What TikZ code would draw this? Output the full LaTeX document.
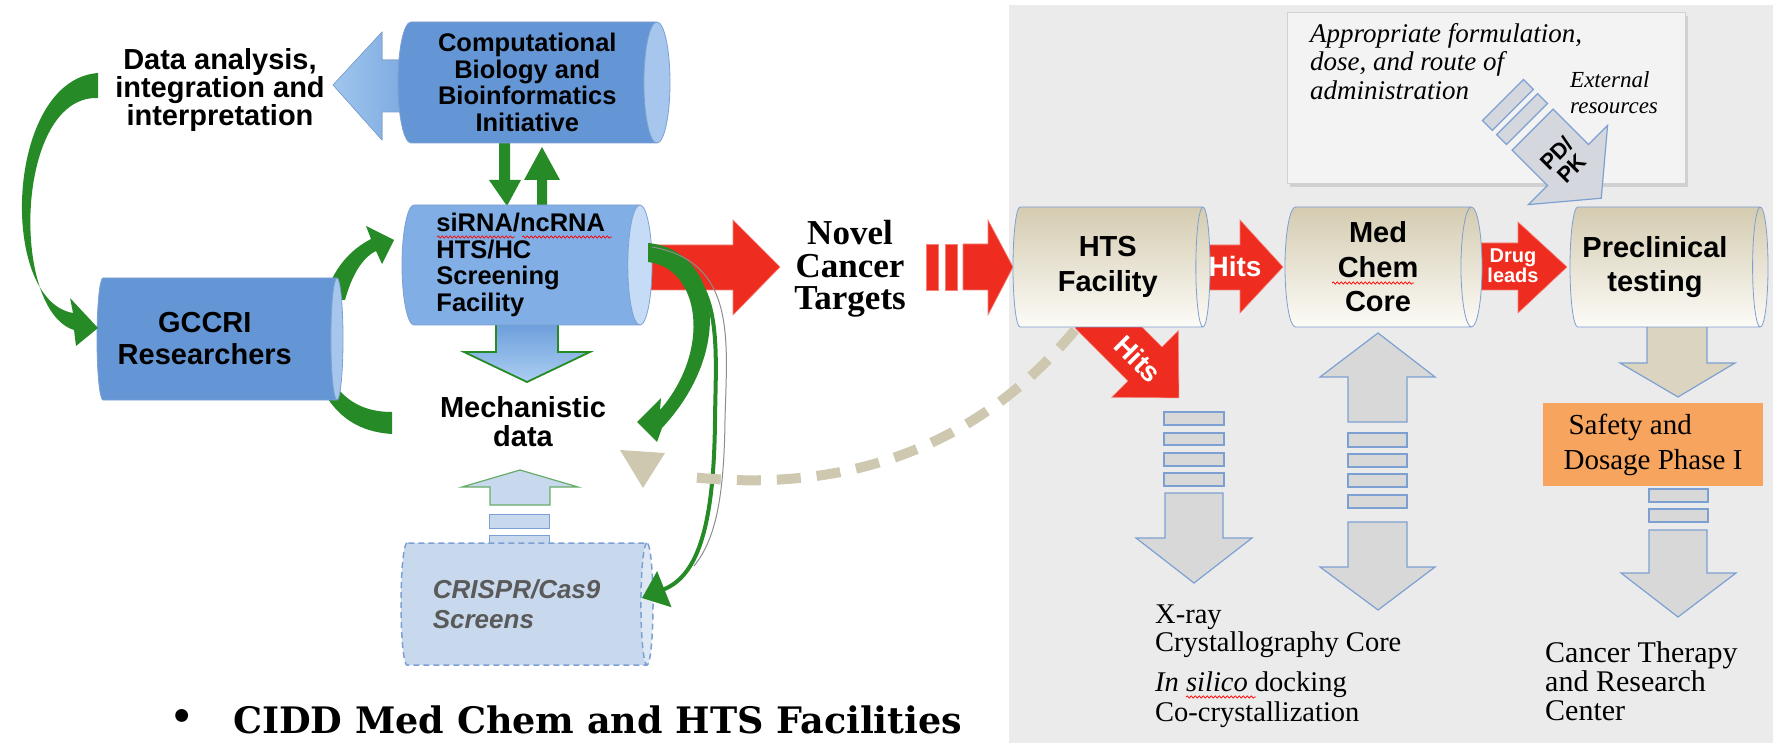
\documentclass[tikz,border=0pt]{standalone}
\usepackage{fontspec}
\setmainfont{Liberation Serif}
\setsansfont{Liberation Sans}
\newfontfamily\slabfont{DejaVu Serif}
\usetikzlibrary{shapes.geometric, arrows.meta, decorations.pathmorphing, shadows}

\definecolor{panelgray}{RGB}{235,235,235}
\definecolor{boxgray}{RGB}{243,243,243}
\definecolor{cylblue}{RGB}{100,150,214}
\definecolor{cylblueend}{RGB}{166,198,237}
\definecolor{scrblue}{RGB}{128,174,229}
\definecolor{scrblueend}{RGB}{198,220,246}
\definecolor{paleblue}{RGB}{200,217,238}
\definecolor{edgeblue}{RGB}{125,160,210}
\definecolor{leafgreen}{RGB}{38,138,38}
\definecolor{hotred}{RGB}{238,45,32}
\definecolor{tantop}{RGB}{212,203,176}
\definecolor{tanbot}{RGB}{252,251,247}
\definecolor{arrowgray}{RGB}{216,216,216}
\definecolor{tanarrow}{RGB}{218,212,192}
\definecolor{dashtan}{RGB}{206,200,176}
\definecolor{safeorange}{RGB}{246,164,94}
\definecolor{crisprtext}{RGB}{90,90,90}

\begin{document}
\begin{tikzpicture}[x=1pt, y=-1pt,
    cyl/.style={cylinder, shape border rotate=0, anchor=shape center, inner sep=0pt, draw=edgeblue, line width=0.8pt, align=center},
    bluecyl/.style={cyl, cylinder uses custom fill, cylinder body fill=cylblue, cylinder end fill=cylblueend},
    tancyl/.style={cyl, top color=tantop, bottom color=tanbot},
    sideline/.style={font=\fontsize{29}{28}\selectfont\sffamily\bfseries, align=center},
    cyltext/.style={font=\fontsize{25.5}{26.7}\selectfont\sffamily\bfseries},
    tantext/.style={font=\fontsize{29}{34.5}\selectfont\sffamily\bfseries},
    arrowtext/.style={font=\fontsize{28}{28}\selectfont\sffamily\bfseries, text=white, inner sep=0pt, align=center},
    notetext/.style={font=\fontsize{28.5}{28}\selectfont, align=left, anchor=west, inner sep=0pt},
    redarrow/.style={fill=hotred, draw=hotred!60!white, line width=0.6pt},
    grayarrow/.style={fill=arrowgray, draw=edgeblue, line width=1.2pt},
    squiggle/.style={red, line width=0.7pt, decorate, decoration={snake, amplitude=1.1pt, segment length=4pt}}
  ]
    \useasboundingbox (0,0) rectangle (1773,743);

    % Gray panel behind the drug development pipeline
    \fill[panelgray] (1009,5) rectangle (1773,743);
    \node[fill=boxgray, draw=black!18, minimum width=398pt, minimum height=171pt,
          drop shadow={shadow xshift=3pt, shadow yshift=-4pt, opacity=0.25}] (pkbox) at (1486,97.5) {};
    \node[notetext, font=\fontsize{27}{28.5}\selectfont\itshape] (approp) at (1310,61.5)
        {Appropriate formulation,\\dose, and route of\\administration};
    \node[notetext, font=\fontsize{23}{25.5}\selectfont\itshape] (extres) at (1570,92.5) {External\\resources};

    % Arrows that sit behind the left cylinders
    \filldraw[left color={rgb,255:red,160;green,198;blue,238}, right color={rgb,255:red,120;green,166;blue,222},
              draw=edgeblue, line width=0.6pt]
        (415,60) -- (382,60) -- (382,32) -- (333,85) -- (382,140) -- (382,112) -- (415,112) -- cycle;
    \fill[leafgreen] (499,138) -- (510,138) -- (510,180) -- (521,180) -- (507,206) -- (489,180) -- (499,180) -- cycle;
    \fill[leafgreen] (537,210) -- (547,210) -- (547,180) -- (560,180) -- (542,147) -- (524,180) -- (537,180) -- cycle;
    \filldraw[redarrow] (630,245) -- (733,245) -- (733,220) -- (780,267) -- (733,315) -- (733,290) -- (630,290) -- cycle;
    \filldraw[top color={rgb,255:red,100;green,152;blue,216}, bottom color={rgb,255:red,172;green,206;blue,242},
              draw=leafgreen, line width=1.8pt]
        (496,316) -- (558,316) -- (558,352) -- (590,352) -- (527,382) -- (464,352) -- (496,352) -- cycle;
    \filldraw[fill=paleblue, draw=leafgreen!70!white, line width=1.2pt]
        (490,505) -- (490,487) -- (462,487) -- (520,470) -- (578,487) -- (550,487) -- (550,505) -- cycle;
    \filldraw[fill=paleblue, draw=edgeblue, line width=1pt] (489,514) rectangle (549,528);
    \filldraw[fill=paleblue, draw=edgeblue, line width=1pt] (489,535) rectangle (549,550);
    % GCCRI to screening facility, and tail towards mechanistic data
    \fill[leafgreen] (324,300) .. controls (333,268) and (350,250) .. (371,239) -- (366,226) -- (394,240)
        -- (382,264) -- (376,251) .. controls (362,258) and (352,275) .. (345,300) -- cycle;
    \fill[leafgreen] (330,378) .. controls (345,402) and (365,412) .. (392,412) -- (392,434)
        .. controls (360,432) and (340,418) .. (326,396) -- cycle;

    % Left cylinders
    \node[bluecyl, minimum height=272pt, minimum width=121pt, aspect=0.264, cyltext] (comp) at (534,82.5)
        {Computational\\Biology and\\Bioinformatics\\Initiative};
    \node[bluecyl, cylinder body fill=scrblue, cylinder end fill=scrblueend, minimum height=250pt,
          minimum width=120pt, aspect=0.233, cyltext, align=left] (sirna) at (527,265)
        {siRNA/ncRNA\\HTS/HC\\Screening\\Facility};
    \node[bluecyl, minimum height=246pt, minimum width=122pt, aspect=0.23,
          font=\fontsize{29}{32}\selectfont\sffamily\bfseries] (gccri) at (220,339)
        {GCCRI\hspace*{24pt}\\Researchers\hspace*{24pt}};
    \node[cyl, dashed, dash pattern=on 6pt off 4pt, line width=1.5pt, cylinder uses custom fill,
          cylinder body fill=paleblue, cylinder end fill=paleblue!60!white, minimum height=252pt,
          minimum width=122pt, aspect=0.246, font=\fontsize{26}{30}\selectfont\sffamily\bfseries\itshape,
          text=crisprtext, align=left] (crispr) at (527,604) {CRISPR/Cas9\hspace*{14pt}\\Screens};
    \draw[squiggle] (437,237) -- (515,237);
    \draw[squiggle] (522,237) -- (612,237);

    % Left labels
    \node[sideline] (dataana) at (220,90) {Data analysis,\\integration and\\interpretation};
    \node[sideline, font=\fontsize{29}{29}\selectfont\sffamily\bfseries] (mech) at (523,422) {Mechanistic\\data};

    % Green curved arrows
    \fill[leafgreen] (98,73) .. controls (5,80) and (-2,300) .. (73,313) -- (70,298) -- (98,328)
        -- (76,346) -- (74,330) .. controls (10,310) and (15,95) .. (98,98) -- cycle;
    \fill[leafgreen] (648,243) .. controls (720,250) and (735,350) .. (662,428) -- (657,442) -- (637,422)
        -- (661,398) -- (660,410) .. controls (712,350) and (700,268) .. (648,262) -- cycle;
    \draw[black!45, line width=1pt] (652,247) .. controls (737,262) and (727,340) .. (725,420)
        .. controls (724,500) and (715,540) .. (694,566);
    \draw[leafgreen, line width=4pt, -{Triangle[width=38pt, length=24pt]}]
        (650,252) .. controls (725,265) and (716,340) .. (715,420) .. controls (714,520) and (700,575) .. (642,598);

    % Novel cancer targets
    \node[font=\fontsize{35}{32.5}\selectfont\bfseries, align=center] (novel) at (850,269) {Novel\\Cancer\\Targets};
    \filldraw[redarrow] (926,244) rectangle (938,290);
    \filldraw[redarrow] (945,244) rectangle (957,290);
    \filldraw[redarrow] (963,244) -- (988,244) -- (988,220) -- (1013,267) -- (988,315) -- (988,290) -- (963,290) -- cycle;

    % Arrows behind the pipeline cylinders
    \begin{scope}[shift={(1145,364)}, rotate=-45]
      \filldraw[redarrow] (-75,-24) -- (0,-24) -- (0,-47) -- (48,0) -- (0,47) -- (0,24) -- (-75,24) -- cycle;
    \end{scope}
    \filldraw[redarrow] (1192,245) -- (1240,245) -- (1240,220) -- (1283,267) -- (1240,313) -- (1240,290) -- (1192,290) -- cycle;
    \filldraw[redarrow] (1468,243) -- (1518,243) -- (1518,222) -- (1567,267) -- (1518,313) -- (1518,290) -- (1468,290) -- cycle;
    \filldraw[fill=tanarrow, draw=edgeblue, line width=1.2pt]
        (1647,318) -- (1707,318) -- (1707,363) -- (1735,363) -- (1678,397) -- (1620,363) -- (1647,363) -- cycle;

    % Pipeline cylinders
    \node[tancyl, minimum height=197pt, minimum width=120pt, aspect=0.233, tantext] (hts) at (1111.5,267) {HTS\\Facility};
    \node[tancyl, minimum height=197pt, minimum width=120pt, aspect=0.233, tantext] (medchem) at (1383.5,267) {Med\\Chem\\Core};
    \node[tancyl, minimum height=198pt, minimum width=120pt, aspect=0.25, tantext] (precl) at (1669,267)
        {Preclinical\hspace*{20pt}\\testing\hspace*{20pt}};
    \draw[squiggle] (1332,283) -- (1414,283);
    \node[arrowtext] (hitsright) at (1235,266) {Hits};
    \node[arrowtext, rotate=-45] (hitsdown) at (1138,359) {Hits};
    \node[arrowtext, font=\fontsize{20}{17}\selectfont\sffamily\bfseries] (drugleads) at (1513,266) {Drug\\leads};

    % PD/PK arrow
    \begin{scope}[shift={(1568,165)}, rotate=-45]
      \filldraw[fill={rgb,255:red,212;green,216;blue,222}, draw=edgeblue, line width=1.2pt] (-92,-29) rectangle (-78,29);
      \filldraw[fill={rgb,255:red,212;green,216;blue,222}, draw=edgeblue, line width=1.2pt] (-72,-29) rectangle (-58,29);
      \filldraw[fill={rgb,255:red,212;green,216;blue,222}, draw=edgeblue, line width=1.2pt]
          (-50,-29) -- (0,-29) -- (0,-56) -- (47,0) -- (0,56) -- (0,29) -- (-50,29) -- cycle;
      \node[font=\fontsize{22}{21}\selectfont\sffamily\bfseries, rotate=45, align=center] (pdpk) at (-6,0) {PD/\\PK};
    \end{scope}

    % Dashed link back to mechanistic data
    \draw[dashtan, line width=10pt, dash pattern=on 24pt off 16pt] (1075,330) .. controls (1000,420) and (880,500) .. (682,476);
    \fill[dashtan] (620,450) -- (665,453) -- (643,488) -- cycle;

    % Gray arrows below the pipeline
    \filldraw[grayarrow] (1164,412) rectangle (1224,425);
    \filldraw[grayarrow] (1164,433) rectangle (1224,445);
    \filldraw[grayarrow] (1164,453) rectangle (1224,466);
    \filldraw[grayarrow] (1164,473) rectangle (1224,486);
    \filldraw[grayarrow] (1165,493) -- (1223,493) -- (1223,538) -- (1252,538) -- (1194,583) -- (1136,538) -- (1165,538) -- cycle;

    \filldraw[grayarrow] (1348,422) -- (1348,377) -- (1320,377) -- (1378,333) -- (1435,377) -- (1407,377) -- (1407,422) -- cycle;
    \filldraw[grayarrow] (1348,433) rectangle (1407,447);
    \filldraw[grayarrow] (1348,454) rectangle (1407,467);
    \filldraw[grayarrow] (1348,474) rectangle (1407,487);
    \filldraw[grayarrow] (1348,495) rectangle (1407,508);
    \filldraw[grayarrow] (1348,522) -- (1407,522) -- (1407,567) -- (1435,567) -- (1378,610) -- (1320,567) -- (1348,567) -- cycle;

    \node[fill=safeorange, minimum width=220pt, minimum height=83pt, inner sep=0pt, align=left,
          font=\fontsize{29}{35}\selectfont] (safety) at (1653,444.5) {\hspace*{5pt}Safety and\\Dosage Phase I};
    \filldraw[grayarrow] (1649,489) rectangle (1708,502);
    \filldraw[grayarrow] (1649,509) rectangle (1708,522);
    \filldraw[grayarrow] (1649,530) -- (1707,530) -- (1707,573) -- (1736,573) -- (1678,617) -- (1621,573) -- (1649,573) -- cycle;

    % Bottom texts
    \node[notetext] (xray) at (1155,631) {X-ray\\Crystallography Core};
    \node[notetext, font=\fontsize{28.5}{30}\selectfont] (insilico) at (1155,700) {\textit{In silico} docking\\Co-crystallization};
    \draw[squiggle] (1186,697) -- (1256,697);
    \node[notetext, font=\fontsize{30}{29}\selectfont] (ctrc) at (1545,681) {Cancer Therapy\\and Research\\Center};

    % Caption
    \node[font=\fontsize{36.5}{40}\selectfont\slabfont\bfseries] (bullet) at (182,720) {•};
    \node[anchor=west, inner sep=0pt, font=\fontsize{36.5}{40}\selectfont\slabfont\bfseries] (cidd) at (233,720)
        {CIDD Med Chem and HTS Facilities};
\end{tikzpicture}
\end{document}
